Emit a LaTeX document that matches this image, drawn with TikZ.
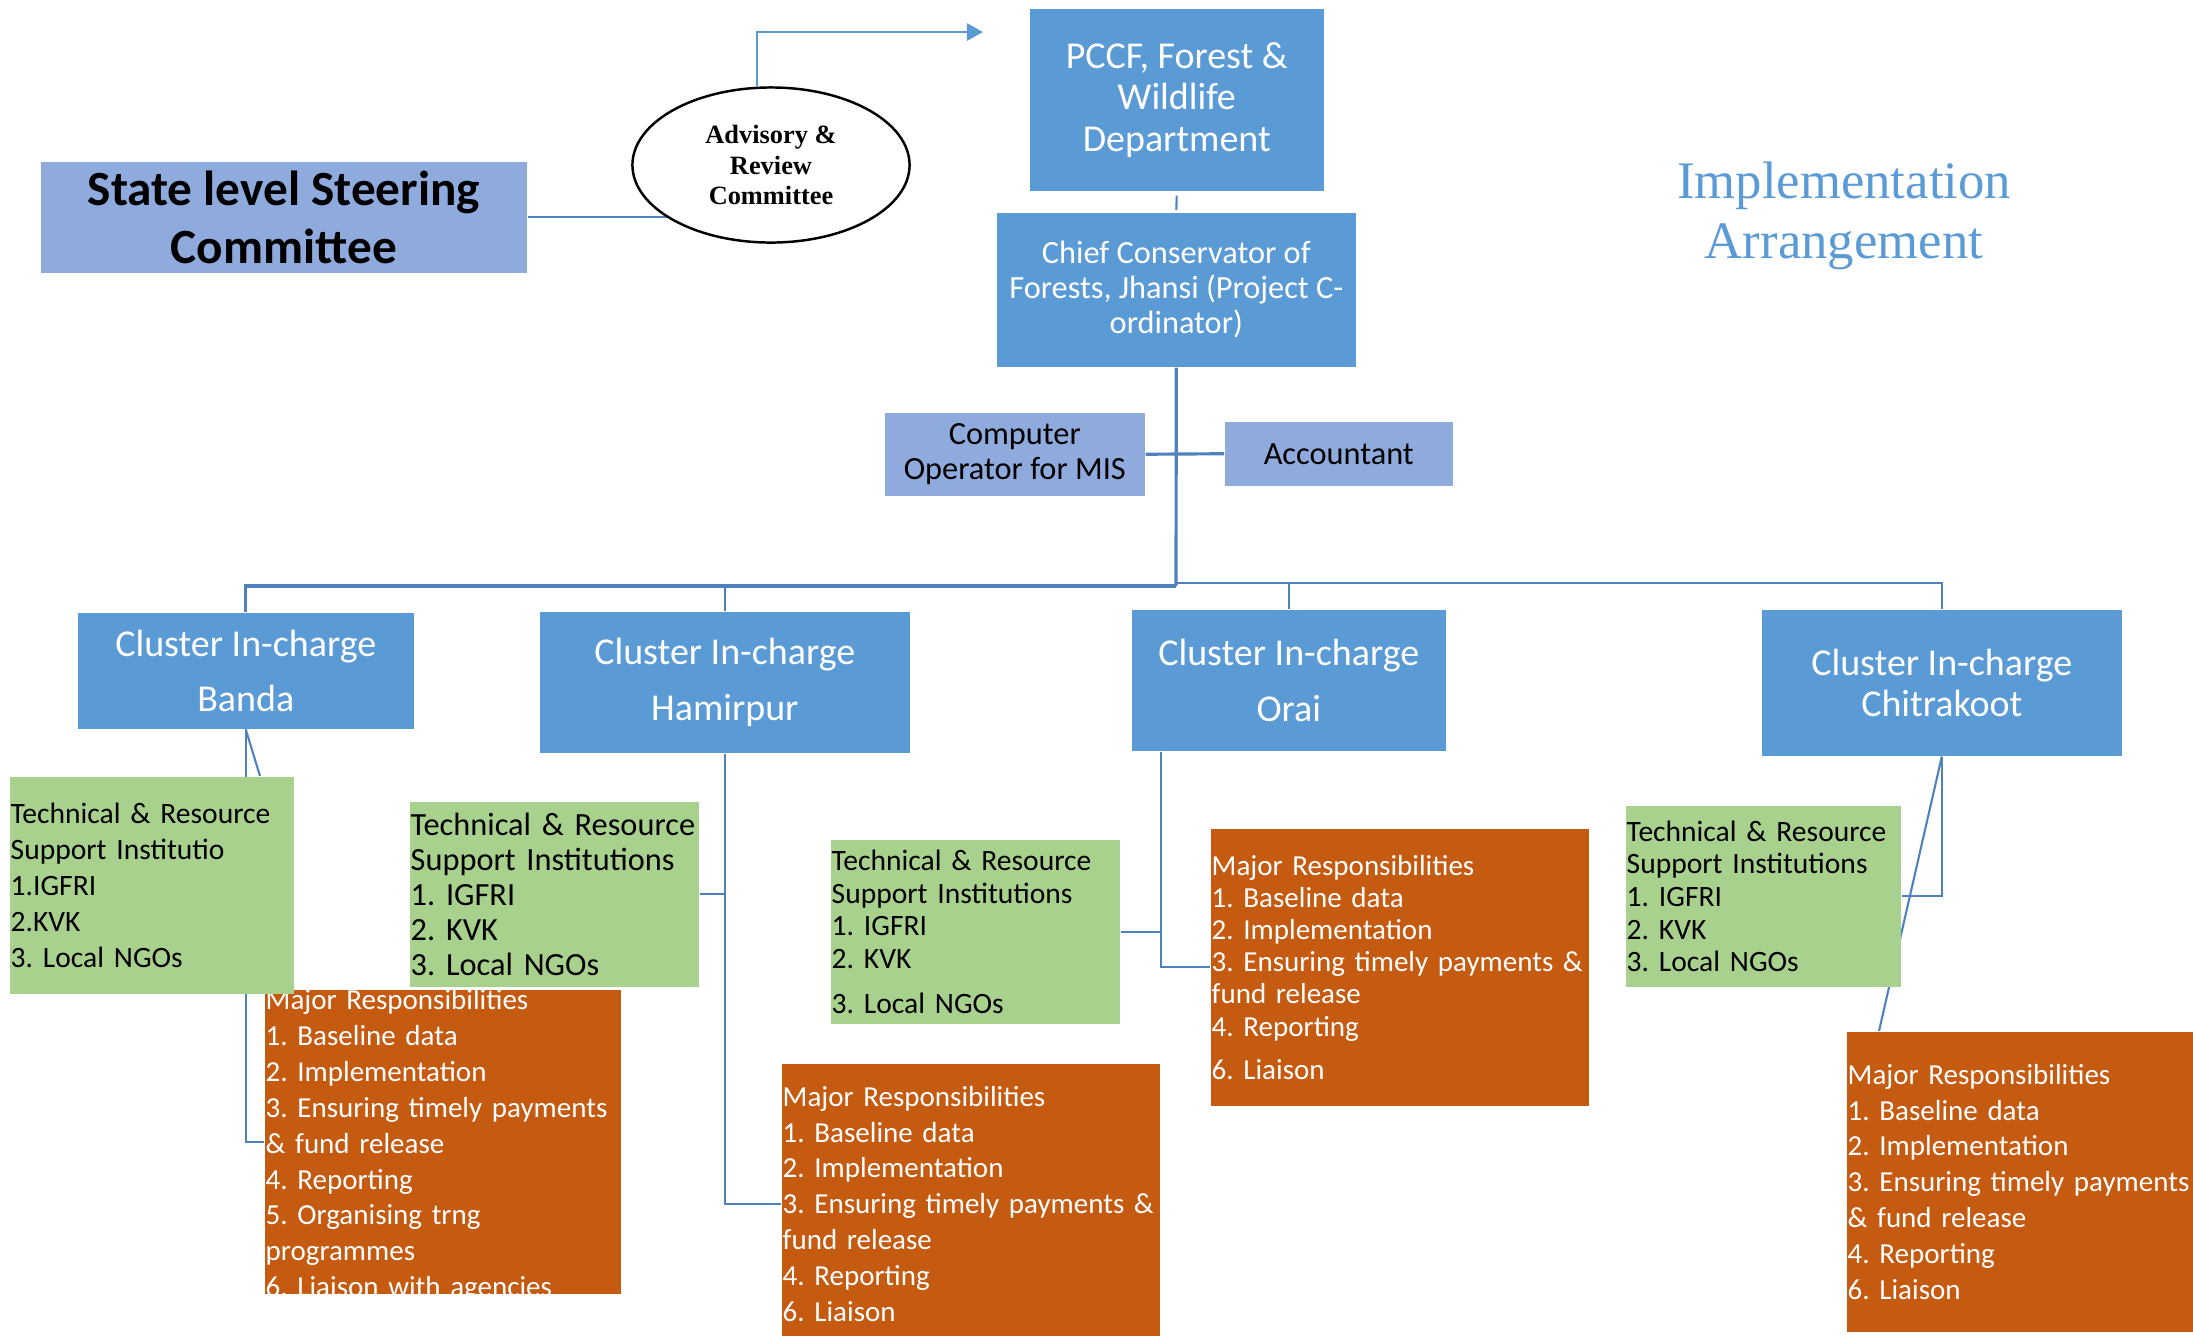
\documentclass[tikz,border=0pt]{standalone}
\usepackage{fontspec}
\setmainfont{Carlito}
\newfontfamily\timesfont{Liberation Serif}
\usetikzlibrary{calc}
\usetikzlibrary{shapes.geometric}
\usetikzlibrary{arrows.meta}

\definecolor{headblue}{HTML}{5B9BD5}
\definecolor{paleblue}{HTML}{8FAADC}
\definecolor{instgreen}{HTML}{A9D18E}
\definecolor{dutyorange}{HTML}{C55A11}
\definecolor{linkblue}{HTML}{4F81BD}

\pgfdeclarelayer{background}
\pgfsetlayers{background,main}
\frenchspacing

\begin{document}
\begin{tikzpicture}[x=0.01cm, y=-0.01cm,
    every node/.style={anchor=north west, inner sep=0pt},
    headbox/.style={fill=headblue, text=white, align=center},
    palebox/.style={fill=paleblue, text=black, align=center},
    cluster/.style={headbox, font=\fontsize{10.8}{15.8}\selectfont},
    instbox/.style={fill=instgreen, text=black, align=left, inner xsep=0.01cm, font=\fontsize{8.4}{10.2}\selectfont},
    dutybox/.style={fill=dutyorange, text=white, align=left, inner xsep=0.01cm, font=\fontsize{8.25}{10.2}\selectfont},
    link/.style={draw=linkblue, line width=0.6pt},
    trunk/.style={draw=linkblue, line width=0.9pt},
    arrowline/.style={draw=headblue, line width=0.8pt, -{Triangle[length=0.16cm, width=0.17cm]}}]
    \useasboundingbox (0,0) rectangle (2193,1335);

    % top of the chart
    \node [palebox, minimum width=4.86cm, minimum height=1.11cm, font=\fontsize{14}{16.5}\selectfont\bfseries] (steer) at (40,161) {State level Steering\\Committee};
    \node [ellipse, draw=black, line width=0.7pt, fill=white, anchor=center, minimum width=2.77cm, minimum height=1.55cm, align=center, font=\timesfont\fontsize{7.5}{8.6}\selectfont\bfseries] (adv) at (771,165) {Advisory \&\\Review\\Committee};
    \coordinate (advtip) at (983,32);
    \node [headbox, minimum width=2.94cm, minimum height=1.82cm, font=\fontsize{10.8}{11.8}\selectfont] (pccf) at (1029,8) {PCCF, Forest \&\\Wildlife\\Department};
    \node [headbox, minimum width=3.59cm, minimum height=1.54cm, font=\fontsize{9.2}{10}\selectfont] (chief) at (996,212) {Chief Conservator of\\Forests, Jhansi (Project C-\\ordinator)};
    \node [palebox, minimum width=2.60cm, minimum height=0.83cm, font=\fontsize{9.2}{10}\selectfont] (compop) at (884,412) {Computer\\Operator for MIS};
    \node [palebox, minimum width=2.28cm, minimum height=0.64cm, font=\fontsize{9.2}{10}\selectfont] (acct) at (1224,421) {Accountant};
    \node [anchor=center, align=center, text=headblue, font=\timesfont\fontsize{15}{17}\selectfont] (title) at (1844,216) {Implementation\\Arrangement};

    % clusters
    \node [cluster, minimum width=3.36cm, minimum height=1.16cm, font=\fontsize{10.8}{15.5}\selectfont] (banda) at (77,612) {Cluster In-charge\\Banda};
    \node [cluster, minimum width=3.70cm, minimum height=1.41cm] (hamirpur) at (539,611) {Cluster In-charge\\Hamirpur};
    \node [cluster, minimum width=3.14cm, minimum height=1.41cm] (orai) at (1131,609) {Cluster In-charge\\Orai};
    \node [cluster, minimum width=3.60cm, minimum height=1.46cm, font=\fontsize{10.8}{11.5}\selectfont] (chitrakoot) at (1761,609) {Cluster In-charge\\Chitrakoot};

    % Banda
    \node [dutybox, minimum width=3.56cm, text width=3.54cm, text height=0.20cm, text depth=2.84cm] (bandaMR) at (264,989) {Major Responsibilities\\1. Baseline data\\2. Implementation\\\mbox{3. Ensuring timely payments}\\\& fund release\\4. Reporting\\5. Organising trng\\programmes\\6. Liaison with agencies};
    \node [instbox, minimum width=2.84cm, minimum height=2.17cm, text width=2.82cm] (bandaTR) at (9,776) {Technical \& Resource\\Support Institutio\\1.IGFRI\\2.KVK\\3. Local NGOs};

    % Hamirpur
    \node [instbox, minimum width=2.89cm, minimum height=1.85cm, text width=2.87cm, font=\fontsize{9.2}{10}\selectfont] (hamirpurTR) at (409,801) {Technical \& Resource\\Support Institutions\\1. IGFRI\\2. KVK\\3. Local NGOs};
    \node [dutybox, minimum width=3.78cm, minimum height=2.80cm, text width=3.76cm] (hamirpurMR) at (781,1063) {Major Responsibilities\\1. Baseline data\\2. Implementation\\\mbox{3. Ensuring timely payments \&}\\fund release\\4. Reporting\\6. Liaison};

    % Orai
    \node [instbox, minimum width=2.89cm, minimum height=1.84cm, text width=2.87cm, font=\fontsize{8.4}{9.3}\selectfont] (oraiTR) at (830,839) {Technical \& Resource\\Support Institutions\\1. IGFRI\\2. KVK\\[3.5pt]3. Local NGOs};
    \node [dutybox, minimum width=3.78cm, minimum height=2.77cm, text width=3.76cm, font=\fontsize{8.25}{9.15}\selectfont] (oraiMR) at (1210,828) {Major Responsibilities\\1. Baseline data\\2. Implementation\\\mbox{3. Ensuring timely payments \&}\\fund release\\4. Reporting\\[3.1pt]6. Liaison};

    % Chitrakoot
    \node [instbox, minimum width=2.75cm, minimum height=1.81cm, text width=2.73cm, font=\fontsize{8.4}{9.3}\selectfont] (chitrakootTR) at (1625,805) {Technical \& Resource\\Support Institutions\\1. IGFRI\\2. KVK\\3. Local NGOs};
    \node [dutybox, minimum width=3.60cm, minimum height=3.00cm, text width=3.58cm] (chitrakootMR) at (1846,1031) {Major Responsibilities\\1. Baseline data\\2. Implementation\\\mbox{3. Ensuring timely payments}\\\& fund release\\4. Reporting\\6. Liaison};

    % connectors
    \begin{pgfonlayer}{background}
    \coordinate (hubL) at (1176,586);
    \coordinate (hubR) at (1176,583);
    \coordinate (oraiDrop) at ($(orai.south west)+(30,0)$);
    \draw [link] (steer.east) -- (steer.east -| adv.center);
    \draw [arrowline] ($(adv.north)+(-14,0)$) |- (advtip);
    \draw [link, shorten <=0.04cm, shorten >=0.02cm] (pccf.south) -- (chief.north);
    \draw [trunk] (chief.south) -- (hubL);
    \draw [trunk] (compop.east) -- (acct.west);
    \draw [trunk] (hubL) -| (banda.north);
    \draw [link] (hubL) -| (hamirpur.north);
    \draw [link] (hubR) -| (orai.north);
    \draw [link] (hubR) -| (chitrakoot.north);
    \draw [link] (banda.south) |- (bandaMR.west);
    \draw [link] (banda.south) -- ($(bandaTR.north west)+(251,0)$);
    \draw [link] (hamirpur.south) |- (hamirpurMR.west);
    \draw [link] (hamirpurTR.east) -- (hamirpurTR.east -| hamirpur.south);
    \draw [link] (oraiDrop) |- (oraiMR.west);
    \draw [link] (oraiTR.east) -- (oraiTR.east -| oraiDrop);
    \draw [link] (chitrakoot.south) |- (chitrakootTR.east);
    \draw [link] (chitrakoot.south) -- ($(chitrakootMR.north west)+(33,0)$);
    \end{pgfonlayer}
\end{tikzpicture}
\end{document}
